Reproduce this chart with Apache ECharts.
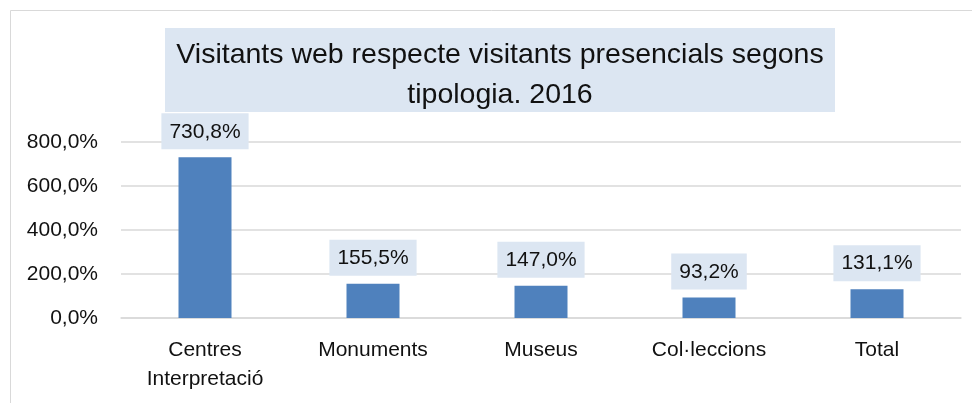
<!DOCTYPE html>
<html>
<head>
<meta charset="utf-8">
<script src="https://cdn.jsdelivr.net/npm/echarts@6/dist/echarts.min.js"></script>
<style>
  html, body { margin: 0; padding: 0; background: #fff; }
  #chart { width: 972px; height: 403px; }
</style>
</head>
<body>
<div id="chart"></div>
<script>
// Ratio of web visitors to on-site visitors by type of facility, 2016 (%)
const categories = ['Centres\nInterpretació', 'Monuments', 'Museus', 'Col·leccions', 'Total'];
const ratios = [730.8, 155.5, 147.0, 93.2, 131.1];
const yTicks = [0, 200, 400, 600, 800];

const FONT = '"Liberation Sans", Arial, sans-serif';
const fmt = v => v.toFixed(1).replace('.', ',') + '%';

const chart = echarts.init(document.getElementById('chart'));
chart.setOption({
  animation: false,
  backgroundColor: '#ffffff',
  graphic: [
    { type: 'rect', z: -10, shape: { x: 10.5, y: 10.5, width: 1000, height: 500 },
      style: { fill: '#ffffff', stroke: '#D9D9D9', lineWidth: 1 } },
    { type: 'rect', z: -5, shape: { x: 165, y: 28, width: 670, height: 84 },
      style: { fill: '#DCE6F2' } }
  ],
  title: {
    text: 'Visitants web respecte visitants presencials segons\ntipologia. 2016',
    left: 495,
    top: 30,
    textAlign: 'center',
    textStyle: { fontFamily: FONT, fontSize: 28.5, fontWeight: 'normal', color: '#111', lineHeight: 40 }
  },
  grid: { left: 121, right: 11, top: 142, bottom: 85 },
  xAxis: {
    type: 'category',
    data: categories,
    axisLine: { lineStyle: { color: '#D9D9D9', width: 1.5 } },
    axisTick: { show: false },
    axisLabel: { fontFamily: FONT, fontSize: 21, color: '#111', margin: 18, lineHeight: 29, interval: 0 }
  },
  yAxis: {
    type: 'value',
    min: yTicks[0],
    max: yTicks[yTicks.length - 1],
    interval: 200,
    axisLine: { show: false },
    axisTick: { show: false },
    splitLine: { lineStyle: { color: '#D9D9D9', width: 1.5 } },
    axisLabel: { fontFamily: FONT, fontSize: 21, color: '#111', margin: 23, formatter: fmt }
  },
  series: [{
    type: 'bar',
    data: ratios,
    barWidth: 53,
    itemStyle: { color: '#4F81BD' },
    label: {
      show: true,
      position: 'top',
      distance: 8,
      formatter: p => fmt(p.value),
      fontFamily: FONT,
      fontSize: 21,
      color: '#111',
      backgroundColor: '#DCE6F2',
      padding: [8, 8, 7, 8]
    }
  }]
});
</script>
</body>
</html>
